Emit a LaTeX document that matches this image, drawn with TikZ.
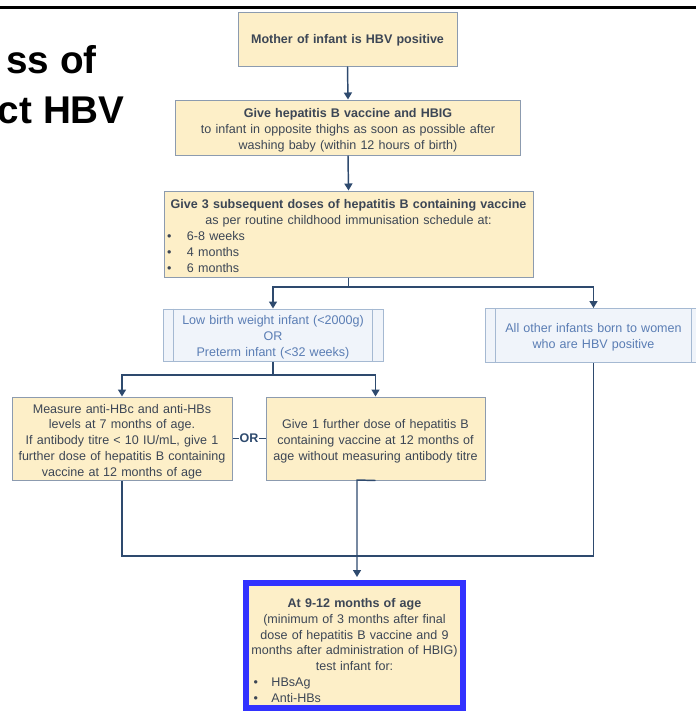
\documentclass[tikz,border=0pt]{standalone}
\usepackage{fontspec}
\setmainfont{Liberation Sans}
\usetikzlibrary{arrows.meta,calc}
\newlength\px \setlength\px{0.75pt}
\newcommand\upto[1]{\par\vspace*{-#1\px}}
\definecolor{yfill}{HTML}{FDEFC8}
\definecolor{ybord}{HTML}{8C9BAF}
\definecolor{bfill}{HTML}{F0F4FA}
\definecolor{bbord}{HTML}{A5B9D2}
\definecolor{btext}{HTML}{5A7DB4}
\definecolor{txt}{HTML}{3C4655}
\definecolor{lncol}{HTML}{2E4A6E}
\definecolor{frame}{HTML}{3232FF}
\begin{document}
\begin{tikzpicture}[x=0.75pt,y=-0.75pt,
  boxfont/.style={font=\fontsize{9.4pt}{11.9pt}\selectfont},
  ybox/.style={draw=ybord, fill=yfill, line width=0.75pt, text=txt, boxfont, inner sep=0pt},
  bbox/.style={draw=bbord, fill=bfill, line width=0.75pt, text=btext, boxfont, inner sep=0pt},
  conn/.style={draw=lncol, line width=1.1pt},
  arr/.style={conn, -{Triangle[width=6pt,length=5.25pt]}},
  title/.style={anchor=base east, inner sep=0pt, font=\fontsize{29pt}{35pt}\selectfont\bfseries}]
\useasboundingbox (0,0) rectangle (696,711);
\draw[line width=2.25pt] (0,7) -- (696,7);
\begin{scope}
\clip (0,0) rectangle (696,711);
\node[title] (t1) at (97,73) {ss of};
\node[title] (t2) at (125,123) {ct HBV};
\end{scope}

\node[ybox, minimum width=219\px, minimum height=54\px, text width=215\px] (b1) at (347.5,39)
  {\centering\textbf{Mother of infant is HBV positive}\upto{4}};

\node[ybox, minimum width=345\px, minimum height=55\px, text width=341\px] (b2) at (348,127.5)
  {\centering\textbf{Give hepatitis B vaccine and HBIG}\\
   to infant in opposite thighs as soon as possible after\\
   washing baby (within 12 hours of birth)\upto{6}};

\node[ybox, minimum width=369\px, minimum height=86\px, text width=363\px] (b3) at (348.5,234)
  {\centering\makebox[\linewidth][c]{\textbf{Give 3 subsequent doses of hepatitis B containing vaccine}}\\
   as per routine childhood immunisation schedule at:\par
   \raggedright
   \makebox[20\px][l]{\textbullet}6-8 weeks\\
   \makebox[20\px][l]{\textbullet}4 months\\
   \makebox[20\px][l]{\textbullet}6 months\upto{4}};

\node[bbox, minimum width=220\px, minimum height=52\px, text width=196\px] (lbw) at (273,335)
  {\centering Low birth weight infant (<2000g)\\ OR\\ Preterm infant (<32 weeks)\upto{5}};
\draw[draw=bbord, line width=0.75pt] ([xshift=11\px]lbw.north west) -- ([xshift=11\px]lbw.south west);
\draw[draw=bbord, line width=0.75pt] ([xshift=-11\px]lbw.north east) -- ([xshift=-11\px]lbw.south east);

\node[bbox, minimum width=217\px, minimum height=54\px, text width=195\px] (oth) at (593.5,335.5)
  {\centering All other infants born to women\\ who are HBV positive\upto{4}};
\draw[draw=bbord, line width=0.75pt] ([xshift=11\px]oth.north west) -- ([xshift=11\px]oth.south west);
\draw[draw=bbord, line width=0.75pt] ([xshift=-11\px]oth.north east) -- ([xshift=-11\px]oth.south east);

\node[ybox, minimum width=220\px, minimum height=83\px, text width=216\px] (m) at (122,438.5)
  {\centering Measure anti-HBc and anti-HBs\\
   levels at 7 months of age.\\
   If antibody titre < 10 IU/mL, give 1\\
   further dose of hepatitis B containing\\
   vaccine at 12 months of age\upto{6}};

\node[ybox, minimum width=219\px, minimum height=83\px, text width=215\px] (g) at (375.5,438.5)
  {\centering Give 1 further dose of hepatitis B\\
   containing vaccine at 12 months of\\
   age without measuring antibody titre\upto{6}};

\node[ybox, draw=frame, line width=4.5pt, minimum width=217\px, minimum height=125\px, text width=212\px] (fin) at (354.5,645.5)
  {\centering\textbf{At 9-12 months of age}\\
   (minimum of 3 months after final\\
   dose of hepatitis B vaccine and 9\\
   months after administration of HBIG)\\
   test infant for:\par
   \raggedright
   \hspace*{5\px}\makebox[18\px][l]{\textbullet}HBsAg\\
   \hspace*{5\px}\makebox[18\px][l]{\textbullet}Anti-HBs\upto{10}};

% connectors
\draw[arr] (b1.south) -- (b2.north);
\draw[arr] (b2.south) -- (b3.north);
\coordinate (s1) at (348,287);
\draw[conn] (b3.south) -- (b3.south |- s1);
\draw[arr] (b3.south |- s1) -| (lbw.north);
\draw[arr] (b3.south |- s1) -| (oth.north);
\coordinate (s2) at (0,375);
\draw[conn] (lbw.south) -- (lbw.south |- s2);
\draw[arr] (lbw.south |- s2) -| (m.north);
\draw[arr] (lbw.south |- s2) -| (g.north);
\draw[conn] (m.east) -- node[fill=white, inner sep=0.75pt, text=lncol, font=\fontsize{9.4pt}{11.9pt}\selectfont\bfseries] (or) {OR} (g.west);
\coordinate (yb) at (0,556);
\draw[conn] (m.south) -- (m.south |- yb) -| (oth.south);
\coordinate (gd) at (357,480);
\draw[arr, shorten >=2.25pt] (g.south) -- (gd) -- (gd |- fin.north);
\end{tikzpicture}
\end{document}
